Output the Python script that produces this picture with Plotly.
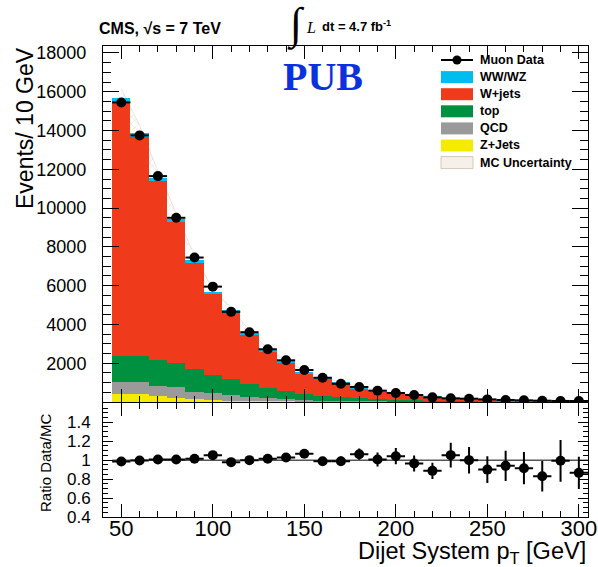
import numpy as np
import plotly.graph_objects as go

# ---------------- data ----------------
pt_centers = [50, 60, 70, 80, 90, 100, 110, 120, 130, 140, 150, 160, 170,
              180, 190, 200, 210, 220, 230, 240, 250, 260, 270, 280, 290, 300]
bin_width = 10

data_counts = [15450, 13750, 11650, 9500, 7450, 5950, 4650, 3600, 2720, 2150,
               1650, 1250, 940, 775, 585, 465, 360, 240, 190, 170,
               135, 105, 85, 68, 55, 52]
data_err = [124, 117, 108, 97, 86, 77, 68, 60, 52, 46, 41, 35, 31, 28, 24,
            22, 19, 15, 14, 13, 12, 10, 9, 8, 7, 7]

z_jets = [395, 395, 310, 220, 155, 100, 70, 50, 40, 30, 25, 20, 15, 12, 10,
          8, 6, 5, 4, 4, 3, 3, 2, 2, 2, 1]
qcd = [620, 620, 515, 535, 375, 345, 275, 225, 180, 125, 75, 50, 40, 30, 25,
       20, 15, 12, 10, 8, 6, 5, 4, 3, 3, 2]
top = [1375, 1375, 1340, 1235, 1150, 945, 840, 655, 520, 415, 295, 240, 185,
       150, 120, 95, 75, 60, 50, 40, 30, 25, 20, 15, 12, 10]
w_jets = [13075, 11270, 9225, 7280, 5500, 4160, 3435, 2560, 1860, 1460, 1085,
          890, 710, 528, 405, 312, 252, 169, 104, 98, 86, 56, 45, 47, 35, 35]
ww_wz = [220, 190, 180, 160, 140, 120, 100, 85, 70, 60, 50, 40, 35, 30, 25,
         20, 17, 14, 12, 10, 8, 7, 6, 5, 4, 4]
mc_unc = [470, 415, 350, 285, 220, 170, 140, 110, 80, 65, 50, 40, 30, 25, 20,
          15, 12, 10, 8, 7, 6, 5, 4, 4, 3, 3]

ratio = [0.986, 0.996, 1.007, 1.007, 1.014, 1.053, 0.979, 1.0, 1.014, 1.028,
         1.067, 0.989, 0.989, 1.063, 1.007, 1.042, 0.965, 0.887, 1.053, 1.0,
         0.90, 0.94, 0.915, 0.83, 0.993, 0.866]
ratio_err = [0.01, 0.01, 0.012, 0.012, 0.014, 0.018, 0.018, 0.02, 0.022, 0.026,
             0.035, 0.04, 0.05, 0.06, 0.075, 0.085, 0.085, 0.085, 0.13, 0.14,
             0.14, 0.16, 0.17, 0.16, 0.22, 0.17]

x_ticks = [50, 100, 150, 200, 250, 300]
main_y_ticks = [2000, 4000, 6000, 8000, 10000, 12000, 14000, 16000, 18000]
main_y_labels = ["2000", "4000", "6000", "8000", "10000", "12000", "14000", "16000", "18000"]
ratio_y_ticks = [0.4, 0.6, 0.8, 1.0, 1.2, 1.4]
ratio_y_labels = ["0.4", "0.6", "0.8", "1", "1.2", "1.4"]

legend_names = ["Muon Data", "WW/WZ", "W+jets", "top", "QCD", "Z+Jets", "MC Uncertainty"]

# ---------------- layout geometry ----------------
W, H = 598, 567
ML, MR, MT, MB = 103, 10, 46, 50
PW, PH = W - ML - MR, H - MT - MB


def px_x(px):
    return (px - ML) / PW


def px_y(py):
    return (H - MB - py) / PH


main_dom = [px_y(402), 1.0]
ratio_dom = [0.0, px_y(403.3)]

FONT = "Liberation Sans, Arial, Helvetica, sans-serif"
SERIF = "Liberation Serif, Times New Roman, serif"

colors = {
    "WW/WZ": "#00bdf0",
    "W+jets": "#f03a1c",
    "top": "#009140",
    "QCD": "#9a9a9a",
    "Z+Jets": "#f6ea00",
}
HATCH = "#d8c6b6"

fig = go.Figure()

# MC uncertainty band (drawn on base axis, beneath the bars)
total = np.array(z_jets) + np.array(qcd) + np.array(top) + np.array(w_jets) + np.array(ww_wz)
unc = np.array(mc_unc)
fig.add_trace(go.Scatter(
    x=pt_centers, y=total - unc, mode="lines", line=dict(width=0, color=HATCH),
    showlegend=False, hoverinfo="skip", xaxis="x", yaxis="y"))
fig.add_trace(go.Scatter(
    x=pt_centers, y=total + unc, mode="lines", line=dict(width=0.6, color="#e0d2c6"),
    fill="tonexty", fillcolor="rgba(0,0,0,0)",
    fillpattern=dict(shape="x", fgcolor=HATCH, bgcolor="rgba(255,255,255,0)",
                     size=5, solidity=0.25),
    name="MC Uncertainty", showlegend=False, xaxis="x", yaxis="y"))

# stacked MC (on overlay axis so it sits above the band)
stack = [("Z+Jets", z_jets), ("QCD", qcd), ("top", top),
         ("W+jets", w_jets), ("WW/WZ", ww_wz)]
for name, vals in stack:
    fig.add_trace(go.Bar(
        x=pt_centers, y=vals, width=bin_width, name=name, showlegend=False,
        marker=dict(color=colors[name], line=dict(width=0)),
        xaxis="x", yaxis="y3"))

# data points
fig.add_trace(go.Scatter(
    x=pt_centers, y=data_counts, mode="markers", name="Muon Data", showlegend=False,
    marker=dict(color="black", size=10),
    error_x=dict(type="constant", value=bin_width / 2, width=0, thickness=2, color="black"),
    error_y=dict(type="data", array=data_err, width=0, thickness=2, color="black"),
    xaxis="x", yaxis="y3"))

# ratio
fig.add_trace(go.Scatter(
    x=pt_centers, y=ratio, mode="markers", showlegend=False, name="Ratio Data/MC",
    marker=dict(color="black", size=10),
    error_x=dict(type="constant", value=bin_width / 2, width=0, thickness=2, color="black"),
    error_y=dict(type="data", array=ratio_err, width=0, thickness=2, color="black"),
    xaxis="x2", yaxis="y2"))

fig.add_shape(type="line", xref="x2", yref="y2", x0=45, x1=305, y0=1, y1=1,
              line=dict(color="#555555", width=1.5), layer="below")

axis_common = dict(showline=True, linecolor="black", linewidth=1, mirror="ticks",
                   ticks="inside", tickcolor="black", showgrid=False, zeroline=False,
                   automargin=False)

main_yrange = [0, 18360]
fig.update_layout(
    width=W, height=H, autosize=False,
    margin=dict(l=ML, r=MR, t=MT, b=MB, pad=0, autoexpand=False),
    paper_bgcolor="white", plot_bgcolor="rgba(0,0,0,0)",
    barmode="stack", bargap=0,
    font=dict(family=FONT, color="black"),
    showlegend=False,
    xaxis=dict(domain=[0, 1], range=[40, 305], anchor="y", tickvals=x_ticks,
               showticklabels=False, ticklen=13,
               minor=dict(ticks="inside", ticklen=6, dtick=10, tick0=0, tickcolor="black"),
               **axis_common),
    yaxis=dict(domain=main_dom, range=main_yrange, anchor="x", tickvals=main_y_ticks,
               ticktext=main_y_labels,
               ticklen=16, tickfont=dict(size=18, family=FONT), ticklabelstandoff=12,
               minor=dict(ticks="inside", ticklen=8, dtick=500, tick0=0, tickcolor="black"),
               **axis_common),
    yaxis3=dict(overlaying="y", range=main_yrange, visible=False, anchor="x"),
    xaxis2=dict(domain=[0, 1], range=[40, 305], anchor="y2", tickvals=x_ticks,
                ticklen=13, tickfont=dict(size=22, family=FONT),
                ticklabelstandoff=-8, ticklabeloverflow="allow",
                minor=dict(ticks="inside", ticklen=6, dtick=10, tick0=0, tickcolor="black"),
                **axis_common),
    yaxis2=dict(domain=ratio_dom, range=[0.4, 1.6], anchor="x2",
                tickvals=ratio_y_ticks, ticktext=ratio_y_labels,
                ticklen=10, tickfont=dict(size=17, family=FONT), ticklabelstandoff=8,
                minor=dict(ticks="inside", ticklen=5, tickmode="linear", dtick=0.05,
                           tick0=0, tickcolor="black"),
                **axis_common),
)

ann = [
    dict(text="<b>CMS, √s = 7 TeV</b>", x=px_x(97), y=px_y(28), xanchor="left",
         yanchor="middle", font=dict(size=16, family=FONT)),
    dict(text="∫", x=px_x(296), y=px_y(24), xanchor="center", yanchor="middle",
         font=dict(size=44, family=SERIF)),
    dict(text="<i>L</i>", x=px_x(311), y=px_y(27), xanchor="center", yanchor="middle",
         font=dict(size=16, family=SERIF)),
    dict(text="<b>dt = 4.7 fb<sup>-1</sup></b>", x=px_x(320), y=px_y(26),
         xanchor="left", yanchor="middle", font=dict(size=13, family=FONT)),
    dict(text="<b>PUB</b>", x=px_x(323), y=px_y(76), xanchor="center", yanchor="middle",
         font=dict(size=40, family=SERIF, color="#0b30e0")),
    dict(text="Events/ 10 GeV", x=px_x(25), y=px_y(128), textangle=-90,
         xanchor="center", yanchor="middle", font=dict(size=23, family=FONT)),
    dict(text="Ratio Data/MC", x=px_x(45), y=px_y(463), textangle=-90,
         xanchor="center", yanchor="middle", font=dict(size=15, family=FONT)),
    dict(text="Dijet System p<sub>T</sub> [GeV]", x=1.0, y=px_y(552),
         xanchor="right", yanchor="middle", font=dict(size=23.5, family=FONT)),
]

# ---------------- legend (ROOT-style, drawn in the corner) ----------------
LX0, LX1, LTX = 441, 473, 478
row_y = [60 + 17.1 * i for i in range(len(legend_names))]
swatch_fill = {"WW/WZ": colors["WW/WZ"], "W+jets": colors["W+jets"], "top": colors["top"],
               "QCD": colors["QCD"], "Z+Jets": colors["Z+Jets"]}
for name, yc in zip(legend_names, row_y):
    ann.append(dict(text="<b>%s</b>" % name, x=px_x(LTX), y=px_y(yc), xanchor="left",
                    yanchor="middle", font=dict(size=12.5, family=FONT)))
    if name == "Muon Data":
        fig.add_shape(type="line", xref="paper", yref="paper",
                      x0=px_x(LX0), x1=px_x(LX1), y0=px_y(yc), y1=px_y(yc),
                      line=dict(color="black", width=2))
        fig.add_shape(type="circle", xref="paper", yref="paper",
                      x0=px_x(457 - 4.5), x1=px_x(457 + 4.5), y0=px_y(yc + 4.5), y1=px_y(yc - 4.5),
                      fillcolor="black", line=dict(color="black", width=0))
    elif name == "MC Uncertainty":
        fig.add_shape(type="rect", xref="paper", yref="paper",
                      x0=px_x(LX0), x1=px_x(LX1), y0=px_y(yc + 6), y1=px_y(yc - 6),
                      fillcolor="#f6f0ea", line=dict(color=HATCH, width=1))
    else:
        fig.add_shape(type="rect", xref="paper", yref="paper",
                      x0=px_x(LX0), x1=px_x(LX1), y0=px_y(yc + 6), y1=px_y(yc - 6),
                      fillcolor=swatch_fill[name], line=dict(width=0))

for a in ann:
    a.update(xref="paper", yref="paper", showarrow=False)
fig.update_layout(annotations=ann)

fig.write_html("out.html", config={"displayModeBar": False, "responsive": False},
               post_script="document.body.style.margin='0';document.body.style.overflow='hidden';")
